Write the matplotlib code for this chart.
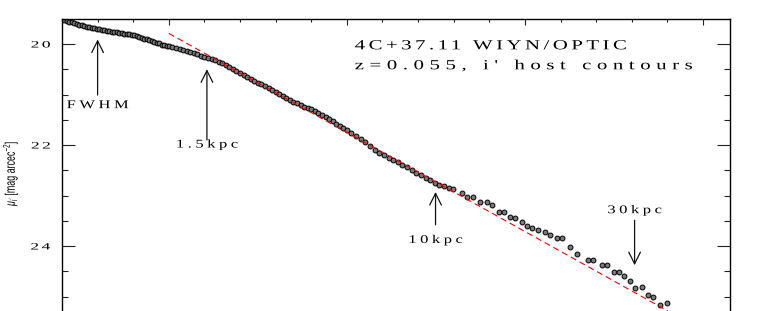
import matplotlib
matplotlib.use('Agg')
import matplotlib.pyplot as plt
from matplotlib.ticker import MultipleLocator, FixedLocator
from matplotlib.font_manager import FontProperties, findfont, get_font
from matplotlib.textpath import TextPath, TextToPath
from matplotlib.patheffects import AbstractPathEffect
from matplotlib.path import Path
from matplotlib.transforms import Affine2D

# profile: x = r^(1/4), y = surface brightness (mag/arcsec^2)
r4 = [0.700, 0.707, 0.714, 0.721, 0.728, 0.735, 0.742, 0.749, 0.756, 0.763,
      0.770, 0.777, 0.784, 0.791, 0.798, 0.805, 0.812, 0.819, 0.826, 0.833,
      0.840, 0.847, 0.854, 0.861, 0.868, 0.875, 0.882, 0.889, 0.896, 0.903,
      0.910, 0.917, 0.924, 0.931, 0.938, 0.945, 0.952, 0.959, 0.966, 0.973,
      0.980, 0.987, 0.994,
      1.00, 1.01, 1.02, 1.03, 1.04, 1.05, 1.06, 1.07, 1.08, 1.09,
      1.10, 1.11, 1.12, 1.13, 1.14, 1.15, 1.16, 1.17, 1.18, 1.19,
      1.20, 1.21, 1.22, 1.23, 1.24, 1.25, 1.26, 1.27, 1.28, 1.29,
      1.30, 1.31, 1.32, 1.33, 1.34, 1.35, 1.36, 1.37, 1.38, 1.39,
      1.40, 1.41, 1.42, 1.43, 1.44, 1.45, 1.46, 1.47, 1.48, 1.49,
      1.500, 1.513, 1.526, 1.539, 1.552, 1.565, 1.578, 1.591, 1.604, 1.617,
      1.630, 1.643, 1.656, 1.669, 1.682, 1.695, 1.708, 1.721, 1.734, 1.747,
      1.760, 1.773, 1.786,
      1.799, 1.823, 1.837, 1.855, 1.874, 1.893, 1.907, 1.926, 1.940, 1.958,
      1.972, 1.991, 2.005, 2.019, 2.038, 2.057, 2.071, 2.090, 2.104, 2.127,
      2.146, 2.178, 2.192, 2.216, 2.230, 2.249, 2.263, 2.277, 2.296, 2.310,
      2.328, 2.347, 2.361, 2.380, 2.399]
mu = [19.51, 19.53, 19.54, 19.56, 19.57, 19.59, 19.60, 19.62, 19.63, 19.64,
      19.66, 19.67, 19.68, 19.69, 19.71, 19.71, 19.72, 19.73, 19.74, 19.75,
      19.76, 19.77, 19.77, 19.78, 19.79, 19.80, 19.80, 19.81, 19.82, 19.83,
      19.85, 19.86, 19.88, 19.90, 19.91, 19.93, 19.95, 19.96, 19.98, 19.99,
      20.01, 20.02, 20.03,
      20.04, 20.06, 20.08, 20.10, 20.12, 20.14, 20.16, 20.18, 20.20, 20.23,
      20.25, 20.27, 20.30, 20.32, 20.35, 20.38, 20.42, 20.46, 20.50, 20.54,
      20.58, 20.62, 20.66, 20.69, 20.73, 20.77, 20.80, 20.84, 20.88, 20.92,
      20.96, 20.99, 21.03, 21.07, 21.10, 21.14, 21.17, 21.20, 21.24, 21.26,
      21.29, 21.33, 21.36, 21.40, 21.44, 21.48, 21.53, 21.58, 21.63, 21.67,
      21.71, 21.77, 21.83, 21.89, 21.95, 22.02, 22.09, 22.15, 22.20, 22.25,
      22.30, 22.34, 22.39, 22.44, 22.50, 22.55, 22.60, 22.65, 22.70, 22.75,
      22.79, 22.82, 22.85,
      22.87, 22.95, 23.02, 23.02, 23.12, 23.12, 23.19, 23.32, 23.32, 23.42,
      23.45, 23.52, 23.60, 23.64, 23.68, 23.72, 23.78, 23.85, 23.85, 24.01,
      24.15, 24.28, 24.28, 24.38, 24.38, 24.51, 24.51, 24.59, 24.69, 24.84,
      24.82, 24.98, 25.00, 25.17, 25.12]

# red dashed r^1/4 fit
fit_r4 = [1.0, 2.43]
fit_mu = [19.79, 25.40]

# arrow markers
marks = ['FWHM', '1.5kpc', '10kpc', '30kpc']
mark_x = [0.800, 1.107, 1.749, 2.308]
mark_tail = [21.01, 21.90, 23.58, 23.49]
mark_head = [19.91, 20.50, 22.93, 24.38]
mark_text = [21.27, 22.05, 23.94, 23.35]

title_lines = ['4C+37.11 WIYN/OPTIC', "z=0.055, i' host contours"]
title_y = [20.105, 20.50]
title_track = [0.25, 0.40]
yticks = [20, 22, 24]
ytick_labels = ['20', '22', '24']


class Spaced(AbstractPathEffect):
    # pgplot-ish lettering: wide glyphs with loose letter spacing
    def __init__(self, s, fp, track=0.3, sx=1.4, align=0.0):
        super().__init__()
        font = get_font(findfont(fp))
        font.set_size(100, 72)
        info = TextToPath().get_glyphs_with_font(font, s)[0]
        xs = [g[1] for g in info]
        paths = []
        for i, (ch, x) in enumerate(zip(s, xs)):
            if ch.isspace():
                continue
            p = TextPath((0, 0), ch, size=100, prop=fp)
            tr = Affine2D().scale(sx, 1).translate(x * sx + i * track * 100, 0)
            paths.append(tr.transform_path(p))
        last = TextPath((0, 0), s[-1], size=100, prop=fp).get_extents().x1
        natural = xs[-1] + last
        total = natural * sx + (len(s) - 1) * track * 100
        shift = align * (total - natural)
        self.path = Affine2D().translate(-shift, 0).transform_path(
            Path.make_compound_path(*paths))

    def draw_path(self, renderer, gc, tpath, affine, rgbFace=None):
        renderer.draw_path(gc, self.path, affine, rgbFace)


class Squeeze(AbstractPathEffect):
    # narrow lettering, kept centred
    def __init__(self, sx=0.65):
        super().__init__()
        self.sx = sx

    def draw_path(self, renderer, gc, tpath, affine, rgbFace=None):
        ext = tpath.get_extents()
        cx = 0.5 * (ext.x0 + ext.x1)
        tr = Affine2D().translate(-cx, 0).scale(self.sx, 1).translate(cx, 0)
        renderer.draw_path(gc, tr.transform_path(tpath), affine, rgbFace)


plt.rcParams['mathtext.fontset'] = 'custom'
plt.rcParams['mathtext.rm'] = 'Liberation Sans'
plt.rcParams['mathtext.it'] = 'Liberation Sans:italic'

fig = plt.figure(figsize=(7.73, 3.11), dpi=100)
ax = fig.add_axes([0.0802, -0.0346, 0.8642, 0.9735])

ax.plot(r4, mu, 'o', ms=3.5, mfc='#7a7a7a', mec='k', mew=0.7, zorder=2)
ax.plot(fit_r4, fit_mu, color='red', lw=0.8, dashes=(5.5, 3.5), zorder=3)

ax.set_xlim(0.7, 2.576)
ax.set_ylim(25.5, 19.505)

fp_title = FontProperties(family='Liberation Serif', size=10)
fp_lab = FontProperties(family='Liberation Serif', size=8.5)
fp_tick = FontProperties(family='Liberation Serif', size=7)

for s, y, tk in zip(title_lines, title_y, title_track):
    t = ax.text(1.522, y, s, fontproperties=fp_title, ha='left', va='baseline')
    t.set_path_effects([Spaced(s, fp_title, tk, 1.5, 0.0)])

for s, x, yt, yh, ytx in zip(marks, mark_x, mark_tail, mark_head, mark_text):
    ax.annotate('', xy=(x, yh), xytext=(x, yt),
                arrowprops=dict(arrowstyle='->,head_length=0.7,head_width=0.35',
                                lw=0.9, color='#111111', shrinkA=0, shrinkB=0,
                                mutation_scale=12))
    t = ax.text(x, ytx, s, fontproperties=fp_lab, ha='center', va='baseline')
    t.set_path_effects([Spaced(s, fp_lab, 0.3, 1.4, 0.5)])

ax.xaxis.set_major_locator(MultipleLocator(0.5))
ax.xaxis.set_minor_locator(MultipleLocator(0.1))
ax.yaxis.set_major_locator(FixedLocator(yticks))
ax.yaxis.set_minor_locator(MultipleLocator(0.5))
ax.set_yticklabels(ytick_labels, fontproperties=fp_tick)
for lbl in ax.get_yticklabels():
    lbl.set_path_effects([Spaced(lbl.get_text(), fp_tick, 0.25, 1.8, 1.0)])

ax.tick_params(which='both', direction='in', top=True, right=True,
               labelbottom=False, width=0.8, color='#222222')
ax.tick_params(axis='x', which='major', length=4)
ax.tick_params(axis='x', which='minor', length=2)
ax.tick_params(axis='y', which='major', length=9.4, pad=8.5)
ax.tick_params(axis='y', which='minor', length=4.5)
for sp in ax.spines.values():
    sp.set_linewidth(1.0)

yl = fig.text(10 / 773, 1 - 173 / 311, r'$\mu_{i^\prime}$ [mag arcec$^{-2}$]',
              rotation=90, ha='center', va='center', fontsize=10,
              family='Liberation Sans')
yl.set_path_effects([Squeeze(0.64)])

fig.savefig('out.png', dpi=100)
